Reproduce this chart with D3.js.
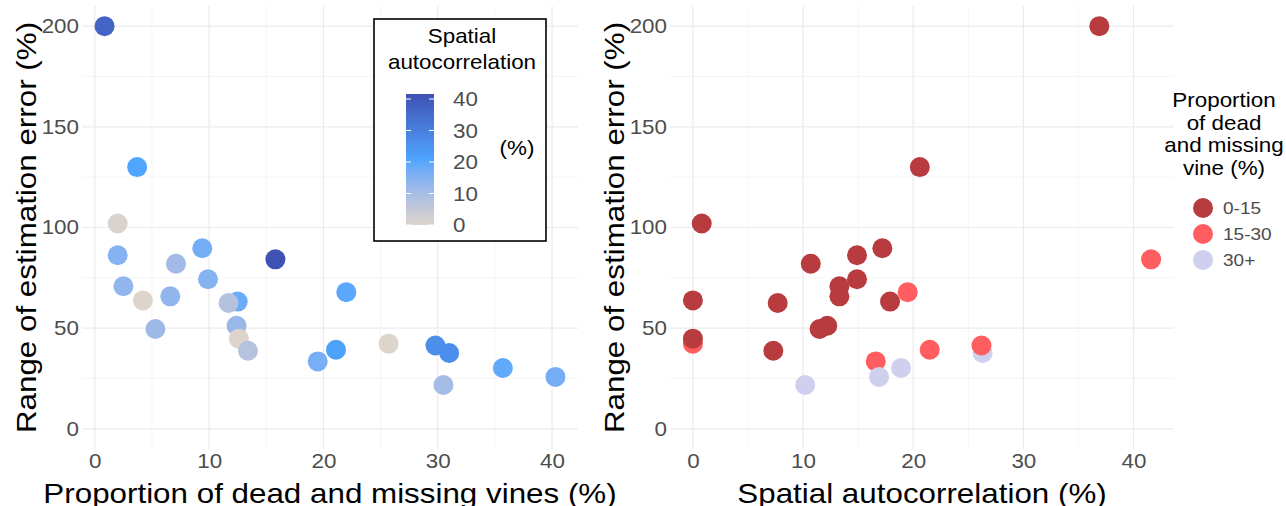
<!DOCTYPE html>
<html>
<head>
<meta charset="utf-8">
<script src="https://cdn.jsdelivr.net/npm/d3@7"></script>
<style>
  body { margin: 0; background: #fff; }
  svg { font-family: "Liberation Sans", Arial, sans-serif; display: block; }
</style>
</head>
<body>
<div class="graphHere"></div>
<script>
// one row per vineyard plot, same order in every array
var deadVines = [0.85, 3.7, 2.0, 2.0, 9.4, 7.1, 15.8, 2.5, 9.9, 4.2, 6.6, 12.5, 11.7, 5.3, 12.4, 25.7, 12.6, 13.4, 19.5, 22.0, 21.1, 31.0, 29.8, 30.5, 35.7, 40.3];
var spatialAuto = [36.9, 20.6, 0.8, 14.9, 17.2, 10.7, 41.6, 13.3, 14.9, 0, 13.3, 17.9, 7.7, 11.5, 12.2, 0, 0, 7.3, 16.6, 19.5, 21.5, 26.3, 26.2, 10.2, 18.9, 16.9];
var errorRange = [200, 130, 102, 86.2, 89.7, 82, 84.2, 70.8, 74.3, 63.8, 65.8, 63.2, 62.5, 49.6, 51.2, 42.3, 44.8, 38.8, 33.5, 67.9, 39.3, 37.7, 41.4, 21.8, 30.2, 25.8];

var xTicks = [0, 10, 20, 30, 40];
var yTicks = [0, 50, 100, 150, 200];
var barTicks = [0, 10, 20, 30, 40];
var deadClasses = ["0-15", "15-30", "30+"];
var classColors = ["#B83B3F", "#FF5D5F", "#CFCFEE"];
var gradColors = ["#DDD4CB", "#4DA5FF", "#3F52B4"];

var W = 1286, H = 506;
var SX = 1.12; // the original text is a bit wider than Liberation Sans
var svg = d3.select(".graphHere").append("svg")
  .attr("width", W)
  .attr("height", H);

function deadClass(v){
  if(v < 15){ return "0-15"; }
  else if(v < 30){ return "15-30"; }
  return "30+";
}

var rows = deadVines.map(function(d, i){
  return {dead: d, spatial: spatialAuto[i], err: errorRange[i]};
});

var spMax = d3.max(spatialAuto);
var spColor = d3.scaleLinear()
  .domain([0, spMax/2, spMax])
  .range(gradColors)
  .interpolate(d3.interpolateLab);
var catColor = d3.scaleOrdinal().domain(deadClasses).range(classColors);

// ggplot-ish 5% padding
function padded(lo, hi){
  var p = (hi - lo) * 0.05;
  return [lo - p, hi + p];
}

// stretched text helper
function label(g, x, y, s, size, fill, anchor, rot){
  return g.append("text")
    .attr("transform", "translate(" + x + "," + y + ")" + (rot ? " rotate(" + rot + ")" : "") + " scale(" + SX + ",1)")
    .attr("text-anchor", anchor || "start")
    .attr("font-size", size)
    .attr("fill", fill || "#000")
    .text(s);
}

var plotTop = 6, plotBottom = 449;
var y = d3.scaleLinear().domain(padded(0, 200)).range([plotBottom, plotTop]);

function panel(left, right, xVals, xTitle, xKey, fillFn){
  var x = d3.scaleLinear().domain(padded(d3.min(xVals), d3.max(xVals))).range([left, right]);
  var g = svg.append("g");

  var minorX = xTicks.slice(0, -1).map(function(t){ return t + 5; });
  var minorY = yTicks.slice(0, -1).map(function(t){ return t + 25; });
  g.selectAll(".mx").data(minorX).enter().append("line")
    .attr("x1", d => x(d)).attr("x2", d => x(d)).attr("y1", plotTop).attr("y2", plotBottom)
    .attr("stroke", "#f2f2f2").attr("stroke-width", 0.8);
  g.selectAll(".my").data(minorY).enter().append("line")
    .attr("x1", left).attr("x2", right).attr("y1", d => y(d)).attr("y2", d => y(d))
    .attr("stroke", "#f2f2f2").attr("stroke-width", 0.8);
  g.selectAll(".gx").data(xTicks).enter().append("line")
    .attr("x1", d => x(d)).attr("x2", d => x(d)).attr("y1", plotTop).attr("y2", plotBottom)
    .attr("stroke", "#ebebeb").attr("stroke-width", 1.2);
  g.selectAll(".gy").data(yTicks).enter().append("line")
    .attr("x1", left).attr("x2", right).attr("y1", d => y(d)).attr("y2", d => y(d))
    .attr("stroke", "#ebebeb").attr("stroke-width", 1.2);

  // axes: labels only
  var ax = g.append("g").attr("transform", "translate(0," + plotBottom + ")")
    .call(d3.axisBottom(x).tickValues(xTicks).tickSize(0).tickPadding(5));
  var ay = g.append("g").attr("transform", "translate(" + (left - 3) + ",0)")
    .call(d3.axisLeft(y).tickValues(yTicks).tickSize(0).tickPadding(0));
  [ax, ay].forEach(function(a){
    a.select(".domain").remove();
    a.selectAll("text").attr("font-size", 20).attr("fill", "#4d4d4d")
      .attr("font-family", "Liberation Sans, Arial, sans-serif")
      .attr("transform", "scale(" + SX + ",1)");
  });

  g.selectAll("circle.pt").data(rows).enter().append("circle")
    .attr("class", "pt")
    .attr("cx", d => x(xKey(d)))
    .attr("cy", d => y(d.err))
    .attr("r", 10)
    .attr("fill", d => fillFn(d));

  label(g, (left + right)/2, 503, xTitle, 28, "#000", "middle");
  label(g, left - 46, (plotTop + plotBottom)/2, "Range of estimation error (%)", 28, "#000", "middle", -90);
}

panel(82, 578, deadVines, "Proportion of dead and missing vines (%)",
  d => d.dead, d => spColor(d.spatial));
panel(670, 1174, spatialAuto, "Spatial autocorrelation (%)",
  d => d.spatial, d => catColor(deadClass(d.dead)));

// colour bar legend inside the left panel
var leg = svg.append("g");
leg.append("rect").attr("x", 374).attr("y", 19).attr("width", 172).attr("height", 222)
  .attr("fill", "#fff").attr("stroke", "#000").attr("stroke-width", 1.6);
label(leg, 462, 43, "Spatial", 20, "#000", "middle");
label(leg, 462, 69, "autocorrelation", 20, "#000", "middle");

var barY = d3.scaleLinear().domain([0, spMax]).range([225, 94]);
var grad = svg.append("defs").append("linearGradient")
  .attr("id", "spgrad").attr("x1", 0).attr("x2", 0).attr("y1", 1).attr("y2", 0);
d3.range(0, 1.0001, 0.05).forEach(function(f){
  grad.append("stop").attr("offset", f).attr("stop-color", spColor(f * spMax));
});
leg.append("rect").attr("x", 406).attr("y", barY(spMax)).attr("width", 28)
  .attr("height", barY(0) - barY(spMax)).attr("fill", "url(#spgrad)");
barTicks.forEach(function(t){
  leg.append("line").attr("x1", 406).attr("x2", 411).attr("y1", barY(t)).attr("y2", barY(t))
    .attr("stroke", "#fff").attr("stroke-width", 1);
  leg.append("line").attr("x1", 429).attr("x2", 434).attr("y1", barY(t)).attr("y2", barY(t))
    .attr("stroke", "#fff").attr("stroke-width", 1);
  label(leg, 453, barY(t) + 7, t, 20, "#4d4d4d", "start");
});
label(leg, 517, 155, "(%)", 20, "#000", "middle");

// category legend on the right
var leg2 = svg.append("g");
["Proportion", "of dead", "and missing", "vine (%)"].forEach(function(s, i){
  label(leg2, 1224, 107 + i * 22.5, s, 20, "#000", "middle");
});
deadClasses.forEach(function(c, i){
  leg2.append("circle").attr("cx", 1203).attr("cy", 208 + i * 26).attr("r", 10)
    .attr("fill", catColor(c));
  label(leg2, 1223, 208 + i * 26 + 6, c, 17, "#4d4d4d", "start");
});
</script>
</body>
</html>
